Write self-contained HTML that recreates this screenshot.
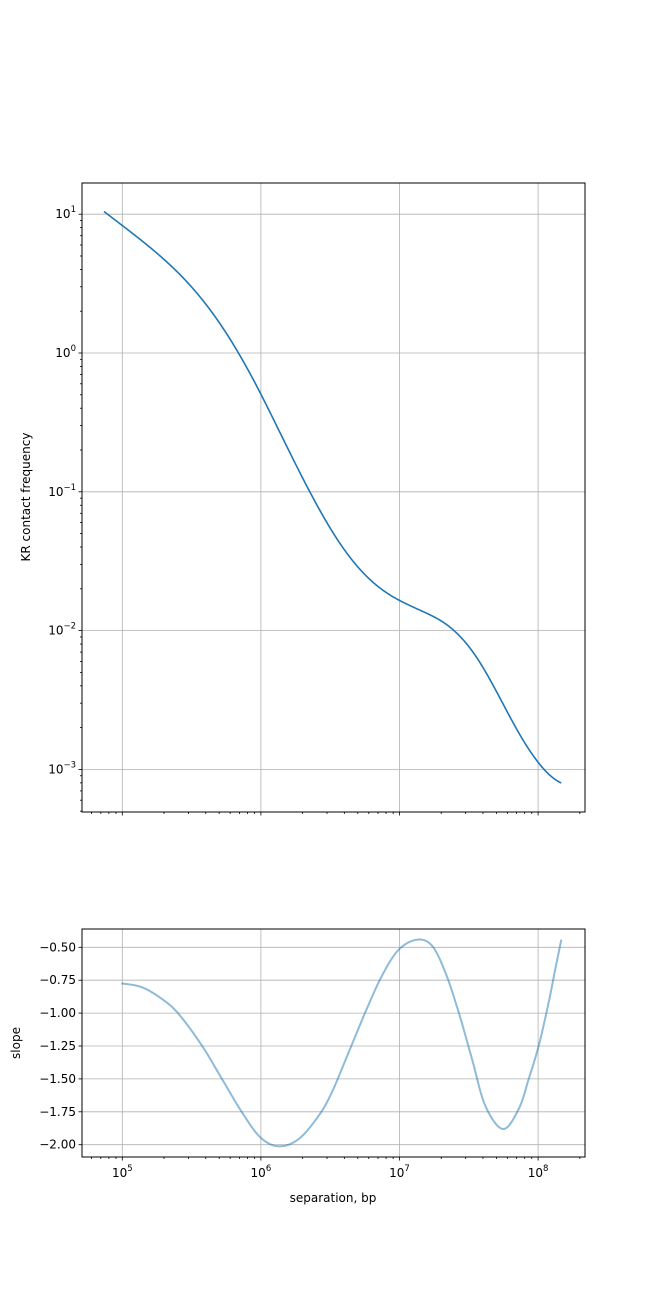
<!DOCTYPE html>
<html><head><meta charset="utf-8"><style>
html,body{margin:0;padding:0;background:#fff}
svg text{font-family:"DejaVu Sans","Liberation Sans",sans-serif;fill:#000}
</style></head><body>
<svg id="s" width="650" height="1300" xmlns="http://www.w3.org/2000/svg"></svg>
<script>
(function(){
const s=document.getElementById('s');let h='';
const X=l=>122.3+(l-5)*138.6;
const L=82,R=585;
const T0=183,T1=812;const YT=l=>353-l*138.8;
const B0=929,B1=1157;const YB=v=>947.3+(-0.5-v)*131.6;
const grid='#b0b0b0';
function vline(x,y0,y1,c,w){h+=`<line x1="${x}" y1="${y0}" x2="${x}" y2="${y1}" stroke="${c}" stroke-width="${w}"/>`;}
function hline(y,x0,x1,c,w){h+=`<line x1="${x0}" y1="${y}" x2="${x1}" y2="${y}" stroke="${c}" stroke-width="${w}"/>`;}
for(let d=5;d<=8;d++){vline(X(d),T0,T1,grid,0.8);vline(X(d),B0,B1,grid,0.8);}
for(let d=-3;d<=1;d++)hline(YT(d),L,R,grid,0.8);
for(let v=-2;v<=-0.5;v+=0.25)hline(YB(v),L,R,grid,0.8);
for(let d=4;d<=8;d++){for(let k=1;k<=9;k++){const x=X(d+Math.log10(k));if(x<L||x>R)continue;const len=k==1?3.5:2;
vline(x,T1,T1+len,'#000',0.8);vline(x,B1,B1+len,'#000',0.8);}}
for(let d=5;d<=8;d++)h+=`<text x="${X(d)}" y="${B1+20}" font-size="12" text-anchor="middle">10<tspan dy="-6" font-size="8.5">${d}</tspan></text>`;
for(let d=-4;d<=1;d++){for(let k=1;k<=9;k++){const y=YT(d+Math.log10(k));if(y<T0||y>T1)continue;const len=k==1?3.5:2;hline(y,L-len,L,'#000',0.8);}}
for(let d=-3;d<=1;d++){const lab=d<0?'\u2212'+(-d):d;h+=`<text x="${L-6}" y="${YT(d)+4}" font-size="12" text-anchor="end">10<tspan dy="-6" font-size="8.5">${lab}</tspan></text>`;}
for(let v=-2;v<=-0.5;v+=0.25){hline(YB(v),L-3.5,L,'#000',0.8);h+=`<text x="${L-6}" y="${YB(v)+4}" font-size="12" text-anchor="end">\u2212${(-v).toFixed(2)}</text>`;}

const P=[[121.3,983.3],[142,987.3],[162,999],[178.7,1014],[202,1045.7],[222,1079],[242,1112.3],[260.3,1137.3],[278.7,1146.3],[298.7,1139],[318.7,1115.7],[332,1092],[348.7,1052.3],[365.3,1012.3],[382,975.7],[398.7,949.7],[417,939.7],[432,945.7],[445.3,972.3],[458.7,1012.3],[472,1059],[485.3,1105.7],[503,1129],[518.7,1109],[528.7,1079],[538.7,1045.7],[548.7,1002.3],[555.3,969],[561.3,939.7]];
// sample catmull-rom
const S=[];
for(let i=0;i<P.length-1;i++){const a=P[i-1]||P[i],b=P[i],c=P[i+1],e=P[i+2]||c;
 const m1=[(c[0]-a[0])/2,(c[1]-a[1])/2],m2=[(e[0]-b[0])/2,(e[1]-b[1])/2];
 for(let k=0;k<20;k++){const t=k/20,t2=t*t,t3=t2*t;
  const h00=2*t3-3*t2+1,h10=t3-2*t2+t,h01=-2*t3+3*t2,h11=t3-t2;
  S.push([h00*b[0]+h10*m1[0]+h01*c[0]+h11*m2[0],h00*b[1]+h10*m1[1]+h01*c[1]+h11*m2[1]]);}}
S.push(P[P.length-1]);
h+=`<polyline points="${S.map(p=>p[0].toFixed(2)+','+p[1].toFixed(2)).join(' ')}" fill="none" stroke="#1f77b4" stroke-opacity="0.5" stroke-width="2" stroke-linejoin="round"/>`;
// integrate for top
const val=y=>-0.5-(y-947.3)/131.6;
const T=[[104,211.5]];let cy=211.5;
let x0=104;const v0=val(S[0][1]);
cy+=-v0*(S[0][0]-x0);T.push([S[0][0],cy]);
for(let i=1;i<S.length;i++){const dx=S[i][0]-S[i-1][0];const v=(val(S[i][1])+val(S[i-1][1]))/2;cy+=-v*dx*(138.8/138.6);T.push([S[i][0],cy]);}
function yiAt(x){for(let i=1;i<T.length;i++){if(T[i][0]>=x){const a=T[i-1],b=T[i];const t=(x-a[0])/((b[0]-a[0])||1);return a[1]+t*(b[1]-a[1]);}}return T[T.length-1][1];}
const A=[[104,211.5],[260.3,393],[398.7,600],[538.7,763],[562,783]].map(p=>[p[0],p[1]-yiAt(p[0])]);
function corr(x){for(let i=1;i<A.length;i++){if(x<=A[i][0]){const a=A[i-1],b=A[i];const t=(x-a[0])/(b[0]-a[0]);return a[1]+t*(b[1]-a[1]);}}return A[A.length-1][1];}
const TT=T.map(p=>[p[0],p[1]+corr(p[0])]);
h+=`<polyline points="${TT.map(p=>p[0].toFixed(2)+','+p[1].toFixed(2)).join(' ')}" fill="none" stroke="#1f77b4" stroke-width="1.6" stroke-linejoin="round"/>`;

h+=`<rect x="${L}" y="${T0}" width="${R-L}" height="${T1-T0}" fill="none" stroke="#000" stroke-width="1"/>`;
h+=`<rect x="${L}" y="${B0}" width="${R-L}" height="${B1-B0}" fill="none" stroke="#000" stroke-width="1"/>`;
h+=`<text x="30" y="497" font-size="12" text-anchor="middle" transform="rotate(-90 30 497)">KR contact frequency</text>`;
h+=`<text x="20" y="1043" font-size="12" text-anchor="middle" transform="rotate(-90 20 1043)">slope</text>`;
h+=`<text x="333" y="1202" font-size="12" text-anchor="middle">separation, bp</text>`;
s.innerHTML=h;
})();
</script>
</body></html>
